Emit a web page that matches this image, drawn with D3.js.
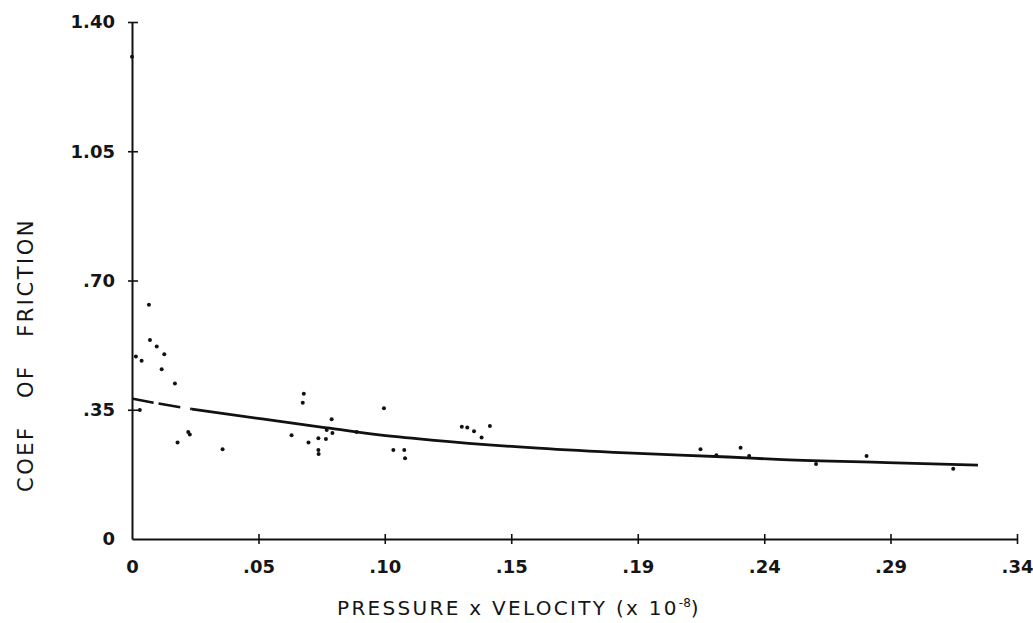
<!DOCTYPE html>
<html>
<head>
<meta charset="utf-8">
<script src="https://cdn.jsdelivr.net/npm/d3@7"></script>
<style>
  body { margin: 0; background: #fff; }
  text { font-family: "DejaVu Sans", sans-serif; fill: #151515; }
</style>
</head>
<body>
<div id="chart"></div>
<script>
const width = 1033, height = 623;

// axis ticks (x ticks are evenly spaced sevenths of .34, labelled rounded)
const xTickValues = [0, 0.0486, 0.0971, 0.1457, 0.1943, 0.2429, 0.2914, 0.34];
const xTickLabels = ["0", ".05", ".10", ".15", ".19", ".24", ".29", ".34"];
const yTickValues = [0, 0.35, 0.70, 1.05, 1.40];
const yTickLabels = ["0", ".35", ".70", "1.05", "1.40"];

// measured points: pressure x velocity, coefficient of friction
const pv = [0, 0.0015, 0.0037, 0.003, 0.0065, 0.0069, 0.0095, 0.0124, 0.0114, 0.0165,
  0.0216, 0.0222, 0.0175, 0.0348, 0.0613, 0.0656, 0.066, 0.0678, 0.0716, 0.0716, 0.0717,
  0.0745, 0.0748, 0.0767, 0.077, 0.0863, 0.0968, 0.1004, 0.1046, 0.1049, 0.1267, 0.1288,
  0.1314, 0.1343, 0.1375, 0.2184, 0.2245, 0.2338, 0.2371, 0.2628, 0.2822, 0.3155];
const cof = [1.306, 0.494, 0.483, 0.349, 0.634, 0.539, 0.521, 0.5, 0.46, 0.421,
  0.29, 0.283, 0.261, 0.243, 0.281, 0.369, 0.393, 0.261, 0.273, 0.241, 0.23,
  0.271, 0.295, 0.324, 0.287, 0.29, 0.354, 0.241, 0.241, 0.219, 0.304, 0.302,
  0.292, 0.275, 0.306, 0.243, 0.227, 0.247, 0.225, 0.203, 0.225, 0.19];

// fitted curve
const fitPv = [0, 0.01, 0.023, 0.05, 0.076, 0.095, 0.115, 0.156, 0.19, 0.229, 0.25, 0.29, 0.325];
const fitCof = [0.38, 0.367, 0.352, 0.325, 0.30, 0.282, 0.268, 0.246, 0.233, 0.222, 0.215, 0.207, 0.200];

const svg = d3.select("#chart")
  .append("svg")
  .attr("width", width)
  .attr("height", height);

const x = d3.scaleLinear().domain([0, 0.34]).range([132, 1017]);
const y = d3.scaleLinear().domain([0, 1.40]).range([539, 22]);

// x axis
const xAxis = svg.append("g")
  .attr("transform", `translate(0,${y(0)})`)
  .call(d3.axisBottom(x)
    .tickValues(xTickValues)
    .tickFormat((d, i) => xTickLabels[i])
    .tickSize(5)
    .tickSizeOuter(0)
    .tickPadding(16));
xAxis.select(".domain").attr("stroke", "#111").attr("stroke-width", 2);
xAxis.selectAll(".tick line").attr("y1", -5).attr("stroke", "#111").attr("stroke-width", 1.6);
xAxis.selectAll(".tick").filter(d => d === 0).select("line").remove();
xAxis.selectAll(".tick text")
  .style("font-size", "18px")
  .style("font-weight", "bold");

// y axis
const yAxis = svg.append("g")
  .attr("transform", `translate(${x(0)},0)`)
  .call(d3.axisLeft(y)
    .tickValues(yTickValues)
    .tickFormat((d, i) => yTickLabels[i])
    .tickSize(5)
    .tickSizeOuter(0)
    .tickPadding(12));
yAxis.select(".domain").attr("stroke", "#111").attr("stroke-width", 2);
yAxis.selectAll(".tick line").attr("x2", 6).attr("x1", -4).attr("stroke", "#111").attr("stroke-width", 1.6);
yAxis.selectAll(".tick").filter(d => d === 0).select("line").remove();
yAxis.selectAll(".tick text")
  .style("font-size", "18px")
  .style("font-weight", "bold");

// fitted curve: short dashed start, then solid
const fit = fitPv.map((d, i) => [d, fitCof[i]]);
const line = d3.line()
  .x(d => x(d[0]))
  .y(d => y(d[1]))
  .curve(d3.curveMonotoneX);

svg.append("path")
  .datum(fit.filter(d => d[0] <= 0.023))
  .attr("d", line)
  .attr("fill", "none")
  .attr("stroke", "#111")
  .attr("stroke-width", 2.5)
  .attr("stroke-dasharray", "22,5,22,10");

svg.append("path")
  .datum(fit.filter(d => d[0] >= 0.023))
  .attr("d", line)
  .attr("fill", "none")
  .attr("stroke", "#111")
  .attr("stroke-width", 2.8);

// points
svg.append("g")
  .selectAll("circle")
  .data(pv.map((d, i) => [d, cof[i]]))
  .join("circle")
  .attr("cx", d => x(d[0]))
  .attr("cy", d => y(d[1]))
  .attr("r", 2)
  .attr("fill", "#111");

// axis titles
const xTitle = svg.append("text")
  .attr("x", 519)
  .attr("y", 615)
  .attr("text-anchor", "middle")
  .style("font-size", "20px")
  .style("letter-spacing", "2.3px")
  .text("PRESSURE x VELOCITY (x 10");
xTitle.append("tspan")
  .attr("dy", -8)
  .style("font-size", "12px")
  .style("letter-spacing", "0px")
  .text("-8");
xTitle.append("tspan")
  .attr("dy", 8)
  .text(")");

svg.append("text")
  .attr("transform", "translate(33,355) rotate(-90)")
  .attr("text-anchor", "middle")
  .style("font-size", "21px")
  .style("letter-spacing", "2.5px")
  .style("white-space", "pre")
  .text("COEF   OF   FRICTION");
</script>
</body>
</html>
